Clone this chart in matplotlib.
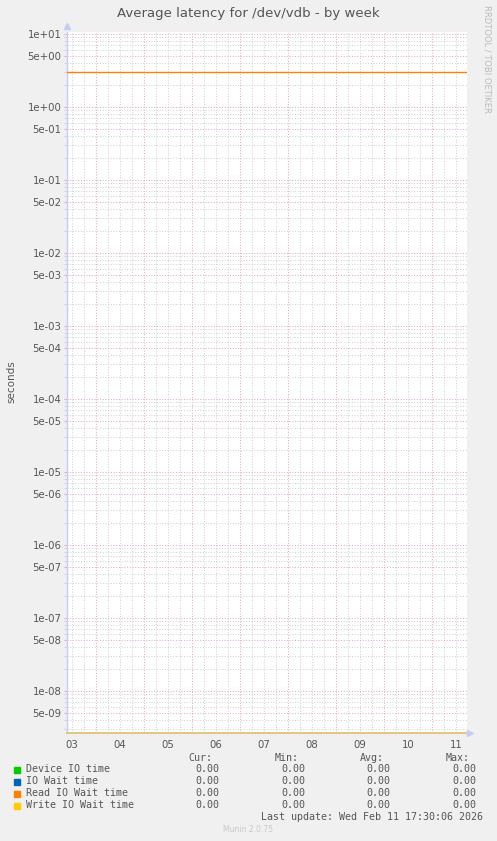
import numpy as np
import matplotlib
matplotlib.use("Agg")
import matplotlib.pyplot as plt

# ---- data ----
series_names = ["Device IO time", "IO Wait time", "Read IO Wait time", "Write IO Wait time"]
series_colors = ["#00CC00", "#0066B3", "#FF8000", "#FFCC00"]
cur_vals = [0.00, 0.00, 0.00, 0.00]
min_vals = [0.00, 0.00, 0.00, 0.00]
avg_vals = [0.00, 0.00, 0.00, 0.00]
max_vals = [0.00, 0.00, 0.00, 0.00]
# time in days of Feb 2026
t_start = 3 + 9.5 / 24
t_end = 11 + 17.5 / 24
read_wait_t = [t_start, t_end]
read_wait_v = [3.0, 3.0]
day_labels = ["03", "04", "05", "06", "07", "08", "09", "10", "11"]
day_numbers = [3, 4, 5, 6, 7, 8, 9, 10, 11]
y_min, y_max = 2.63e-9, 10.6
title = "Average latency for /dev/vdb - by week"
last_update = "Last update: Wed Feb 11 17:30:06 2026"

W, H = 497, 841
fig = plt.figure(figsize=(W / 100, H / 100), dpi=100, facecolor="#F0F0F0")
L, R, T, B = 67, 467, 32, 733
ax = fig.add_axes([L / W, 1 - B / H, (R - L) / W, (B - T) / H])
ax.set_facecolor("white")
ax.set_yscale("log")
ax.set_xlim(t_start, t_end)
ax.set_ylim(y_min, y_max)

dot = (0, (1, 1.6))
minor_c = "#d4d4d4"
major_c = "#e4b0b0"
glw = 0.75
# vertical grid
quarter = np.arange(np.floor(t_start), t_end, 0.25)
for q in quarter:
    if q < t_start:
        continue
    c = major_c if abs(q - round(q)) < 1e-6 else minor_c
    ax.axvline(q, color=c, lw=glw, ls=dot, zorder=1)

# horizontal grid
decades = range(-9, 2)
major_y, minor_y = [], []
for d in decades:
    for m in range(1, 10):
        v = m * 10.0 ** d
        if v < y_min or v > y_max:
            continue
        (major_y if m in (1, 5) else minor_y).append(v)
for v in minor_y:
    ax.axhline(v, color=minor_c, lw=glw, ls=dot, zorder=1)
for v in major_y:
    ax.axhline(v, color=major_c, lw=glw, ls=dot, zorder=1)

ax.set_yticks(major_y)
ax.set_yticklabels(["%.0e" % v for v in major_y])
ax.set_yticks(minor_y, minor=True)
ax.set_yticklabels([], minor=True)
ax.tick_params(axis="y", which="major", length=2, width=0.8, color=major_c,
               labelsize=7.3, labelcolor="#555555", pad=2)
ax.tick_params(axis="y", which="minor", length=2, width=0.8, color=minor_c)

ax.set_xticks([d + 0.5 for d in day_numbers])
ax.set_xticklabels(day_labels)
ax.set_xticks([], minor=True)
ax.tick_params(axis="x", which="major", length=0, labelsize=7.3,
               labelcolor="#555555", pad=5)

for s in ["top", "right"]:
    ax.spines[s].set_visible(False)
ax.spines["left"].set_color("#c8ccf4")
ax.spines["left"].set_linewidth(1.0)
ax.spines["bottom"].set_color("#dcc065")
ax.spines["bottom"].set_linewidth(1.2)

# arrows
ax.plot([0], [1.008], marker="^", ms=4, color="#c8ccf4", transform=ax.transAxes,
        clip_on=False, zorder=5)
ax.plot([1.008], [0], marker=">", ms=4, color="#c8ccf4", transform=ax.transAxes,
        clip_on=False, zorder=5)

# data line
ax.plot(read_wait_t, read_wait_v, color=series_colors[2], lw=1.0, zorder=3)

def fy(py):
    return 1 - py / H

fig.text(11.7 / W, fy(382), "seconds", rotation=90, ha="center", va="center",
         fontsize=7.5, color="#555555")
fig.text(248 / W, fy(13.5), title, ha="center", va="center", fontsize=9.5, color="#555555")
fig.text(487 / W, fy(5), "RRDTOOL / TOBI OETIKER", rotation=270, ha="center", va="top",
         fontsize=6, color="#bbbbbb")

mono = "DejaVu Sans Mono"
fs = 7.2
tc = "#555555"
col_right = [219, 305.7, 390.7, 476.7]
hdr_right = [212.7, 299, 384, 470]
hdrs = ["Cur:", "Min:", "Avg:", "Max:"]
for x, h in zip(hdr_right, hdrs):
    fig.text(x / W, fy(757.7), h, ha="right", va="center", fontsize=fs, family=mono, color=tc)
rows_y = [769.5, 781.5, 793.5, 805.5]
for i, name in enumerate(series_names):
    y = rows_y[i]
    fig.patches.append(plt.Rectangle((14 / W, fy(y + 3)), 6 / W, 6 / H,
                                     transform=fig.transFigure, color=series_colors[i]))
    fig.text(26 / W, fy(y), name, ha="left", va="center", fontsize=fs, family=mono, color=tc)
    for x, vals in zip(col_right, [cur_vals, min_vals, avg_vals, max_vals]):
        fig.text(x / W, fy(y), "%.2f" % vals[i], ha="right", va="center", fontsize=fs,
                 family=mono, color=tc)
fig.text(482.7 / W, fy(817.5), last_update, ha="right", va="center", fontsize=fs,
         family=mono, color=tc)
fig.text(248 / W, fy(830), "Munin 2.0.75", ha="center", va="center", fontsize=5.5,
         color="#c8c8c8")

fig.savefig("out.png", dpi=100, facecolor=fig.get_facecolor())
